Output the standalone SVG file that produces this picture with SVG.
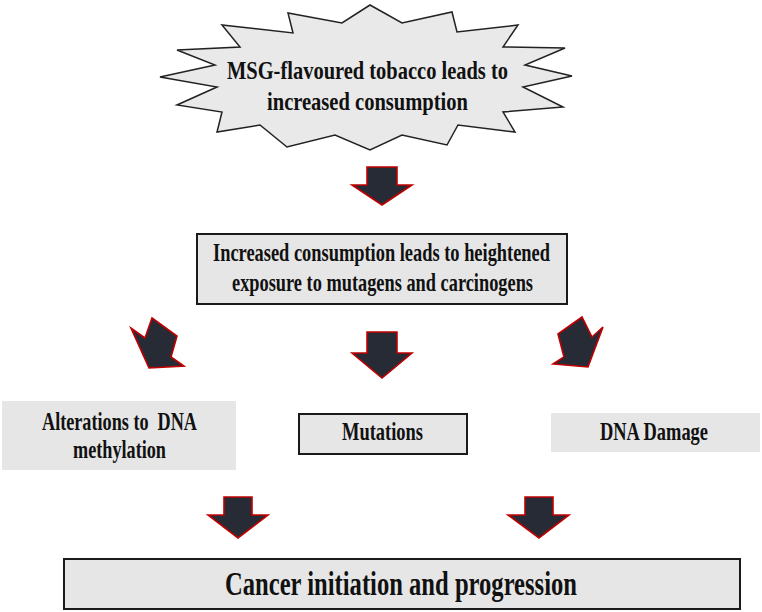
<svg xmlns="http://www.w3.org/2000/svg" width="762" height="612" viewBox="0 0 762 612">
<defs>
<style>
.t{font-family:"Liberation Serif","Times New Roman",serif;font-weight:bold;font-size:25px;fill:#111;text-anchor:middle}
.big{font-size:33px}
.box{fill:#e6e6e6;stroke:#1a1a1a;stroke-width:2}
.plain{fill:#e6e6e6;stroke:none}
.arr{fill:#262b35;stroke:#c00000;stroke-width:1.6;stroke-linejoin:miter}
</style>
</defs>
<rect width="762" height="612" fill="#ffffff"/>
<g id="connectors">
<polygon class="arr" points="367,167 397,167 397,185 412,185 382,205 352,185 367,185"/>
<polygon class="arr" points="367,332 397,332 397,353 412,353 382,378 352,353 367,353"/>
<polygon class="arr" points="152,318 177,336 171,357 184,366 149,368 131,328 145,338"/>
<polygon class="arr" points="558,334 582,317 592,337 603,327 588,367 553,364 564,357"/>
<polygon class="arr" points="224,497 252,497 252,515 268,515 238,538 208,515 224,515"/>
<polygon class="arr" points="525,497 553,497 553,515 569,515 539,538 508,515 525,515"/>
</g>
<g id="node-start">
<polygon fill="#e9e9e9" stroke="#222" stroke-width="1.5" stroke-linejoin="miter" points="370,5 402,23 452,12 457,32 518,25 503,47 565,48 525,65 572,76 523,87 563,107 503,112 515,132 458,125 447,145 402,135 370,150 335,135 287,147 260,125 217,132 222,112 177,105 217,87 160,77 215,65 177,50 240,47 222,25 293,33 288,13 342,23"/>
<text class="t" x="367.5" y="79" textLength="281" lengthAdjust="spacingAndGlyphs">MSG-flavoured tobacco leads to</text>
<text class="t" x="367.5" y="110" textLength="201" lengthAdjust="spacingAndGlyphs">increased consumption</text>
</g>
<g id="node-exposure">
<rect class="box" x="197" y="234" width="370" height="70"/>
<text class="t" x="381.5" y="261" textLength="337" lengthAdjust="spacingAndGlyphs">Increased consumption leads to heightened</text>
<text class="t" x="382.5" y="291" textLength="301" lengthAdjust="spacingAndGlyphs">exposure to mutagens and carcinogens</text>
</g>
<g id="node-methylation">
<rect class="plain" x="2" y="401" width="234" height="69"/>
<text class="t" x="119.5" y="430" textLength="155" lengthAdjust="spacingAndGlyphs" xml:space="preserve">Alterations to  DNA</text>
<text class="t" x="119.5" y="458" textLength="93" lengthAdjust="spacingAndGlyphs">methylation</text>
</g>
<g id="node-mutations">
<rect class="box" x="299" y="414" width="168" height="40"/>
<text class="t" x="382.5" y="440" textLength="81" lengthAdjust="spacingAndGlyphs">Mutations</text>
</g>
<g id="node-damage">
<rect class="plain" x="551" y="413" width="209" height="39"/>
<text class="t" x="654" y="440" textLength="108" lengthAdjust="spacingAndGlyphs">DNA Damage</text>
</g>
<g id="node-cancer">
<rect class="box" x="64" y="559" width="676" height="50"/>
<text class="t big" x="401" y="595" textLength="352" lengthAdjust="spacingAndGlyphs">Cancer initiation and progression</text>
</g>
</svg>
